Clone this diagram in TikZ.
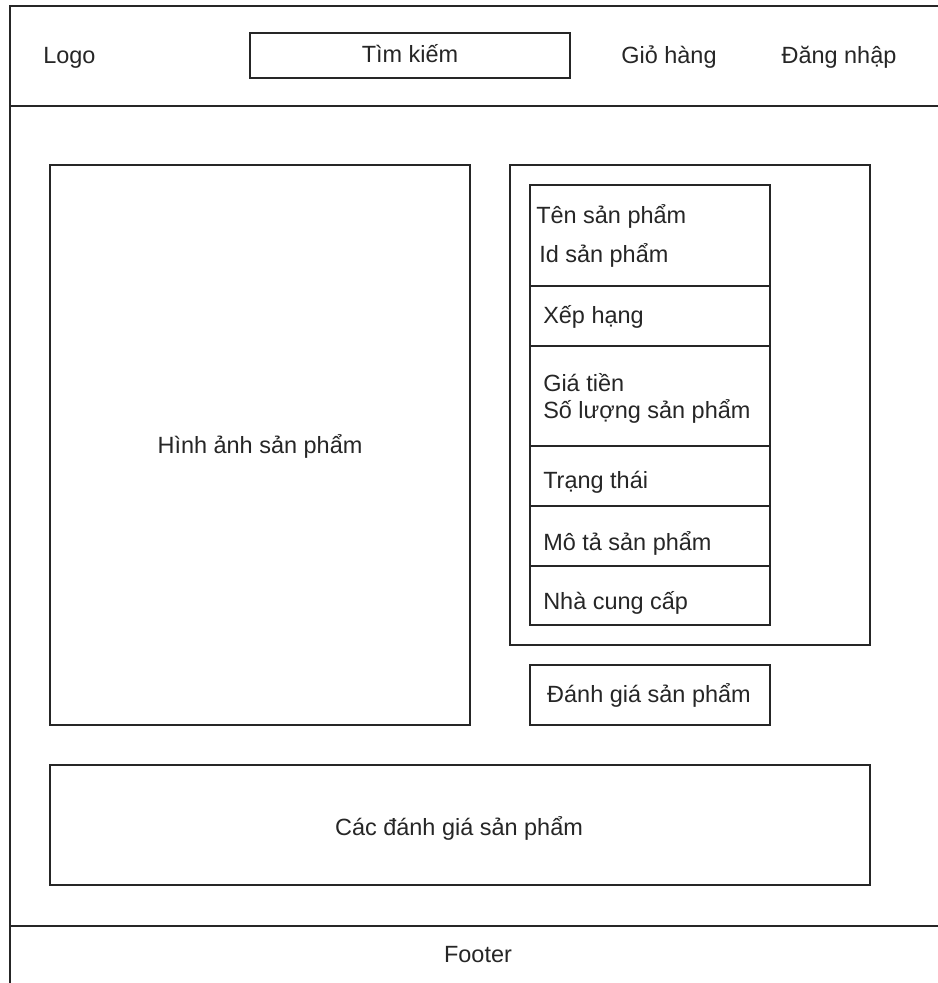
\documentclass[tikz,border=0pt]{standalone}
\usepackage{fontspec}
\setmainfont{Liberation Sans}
\usetikzlibrary{fit}
\begin{document}
\begin{tikzpicture}[x=0.75pt,y=-0.75pt,
  box/.style={draw=black!85, line width=1.5pt, inner sep=0pt, rectangle},
  rule/.style={draw=black!85, line width=1.5pt},
  lbl/.style={text=black!85, inner sep=0pt, font=\fontsize{17.6}{21}\selectfont},
  ctr/.style={lbl, anchor=base},
  lft/.style={lbl, anchor=base west}]
\useasboundingbox (0,0) rectangle (938,983);
\clip (0,0) rectangle (938,983);
\fill[white] (0,0) rectangle (938,983);

% page frame, running on past the right and bottom edges
\node[box, fit={(10,6)(960,1010)}] (page) {};
\coordinate (hdrL) at (10,106);
\coordinate (hdrR) at (960,106);
\coordinate (ftrL) at (10,926);
\coordinate (ftrR) at (960,926);
\draw[rule] (hdrL) -- (hdrR);
\draw[rule] (ftrL) -- (ftrR);

% header
\node[lft] (logo) at (43,63) {Logo};
\node[box, fit={(250,33)(570,78)}] (search) {};
\node[ctr] (searchtxt) at (410,62) {Tìm kiếm};
\node[ctr] (cart) at (669,63) {Giỏ hàng};
\node[ctr] (login) at (839,63) {Đăng nhập};

% product image
\node[box, fit={(50,165)(470,725)}] (image) {};
\node[ctr] (imagetxt) at (260,453) {Hình ảnh sản phẩm};

% product details
\node[box, fit={(510,165)(870,645)}] (info) {};
\node[box, fit={(530,185)(770,625)}] (col) {};
\foreach \yy in {286,346,446,506,566}
  \draw[rule] (col.west |- 0,\yy) -- (col.east |- 0,\yy);
\node[lft] (name)   at (536,223) {Tên sản phẩm};
\node[lft] (pid)    at (539,262) {Id sản phẩm};
\node[lft] (rank)   at (543,323) {Xếp hạng};
\node[lft] (price)  at (543,391) {Giá tiền};
\node[lft] (qty)    at (543,418) {Số lượng sản phẩm};
\node[lft] (status) at (543,488) {Trạng thái};
\node[lft] (desc)   at (543,550) {Mô tả sản phẩm};
\node[lft] (vendor) at (543,609) {Nhà cung cấp};

% rating button
\node[box, fit={(530,665)(770,725)}] (rate) {};
\node[ctr] (ratetxt) at (649,702) {Đánh giá sản phẩm};

% reviews
\node[box, fit={(50,765)(870,885)}] (reviews) {};
\node[ctr] (reviewstxt) at (459,835) {Các đánh giá sản phẩm};

% footer
\node[ctr] (footer) at (478,962) {Footer};
\end{tikzpicture}
\end{document}
